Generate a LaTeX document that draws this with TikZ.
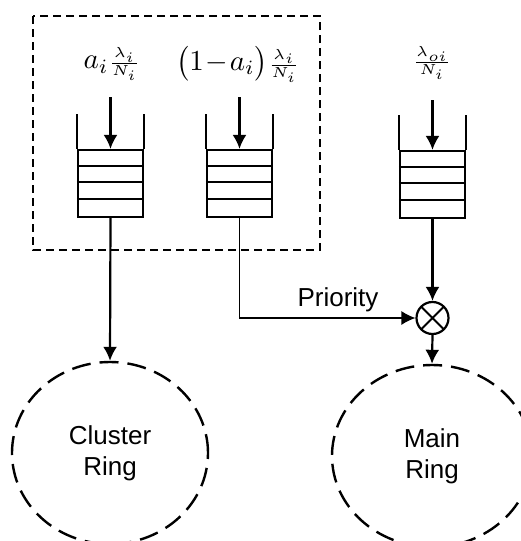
\documentclass[tikz,border=0pt]{standalone}
\usepackage{amsmath}
\usepackage{graphicx}
\usepackage{fontspec}
\setmainfont{Liberation Sans}
\usetikzlibrary{arrows.meta, positioning, calc, shapes.geometric}

\begin{document}
\begin{tikzpicture}[
    x=1pt, y=-1pt,
    queue/.style={rectangle, draw, line width=2.2pt, minimum width=65pt, minimum height=67pt, inner sep=0pt},
    ring/.style={ellipse, draw, dashed, dash pattern=on 19pt off 9pt, line width=2.4pt, minimum width=196pt, minimum height=182pt, align=center, font=\fontsize{26}{31}\selectfont},
    mux/.style={circle, draw, line width=2.2pt, minimum size=32pt, inner sep=0pt,
        path picture={\draw[line width=1.8pt] (path picture bounding box.north west) -- (path picture bounding box.south east)
            (path picture bounding box.north east) -- (path picture bounding box.south west);}},
    rate/.style={inner sep=0pt},
    arrow/.style={-{Latex[length=14pt,width=14pt]}, line width=2.2pt},
    tarrow/.style={-{Latex[length=14pt,width=14pt]}, line width=1.3pt}
]
    \useasboundingbox (0,0) rectangle (521,541);

    % Group box
    \draw[dashed, dash pattern=on 8pt off 5pt, line width=2.5pt] (33,16) rectangle (320,250);

    % Queues
    \node[queue] (q1) at (110.5,183.5) {};
    \node[queue] (q2) at (239.5,183.5) {};
    \node[queue] (q3) at (432.5,184.5) {};
    \foreach \q in {q1,q2,q3} {
        \draw[line width=2.2pt] (\q.north west) -- +(0,-35);
        \draw[line width=2.2pt] (\q.north east) -- +(0,-35);
        \foreach \dy in {17,33,50}
            \draw[line width=2.2pt] ($(\q.north west)+(0,\dy)$) -- ($(\q.north east)+(0,\dy)$);
    }

    % Arrival rates
    \node[rate] (lab1) at (112,64) {\scalebox{2.9}{$a_i{\scriptstyle\frac{\lambda_i}{N_i}}$}};
    \node[rate] (lab2) at (238,64) {\scalebox{2.9}{$\bigl(1\!-\!a_i\bigr){\scriptstyle\frac{\lambda_i}{N_i}}$}};
    \node[rate] (lab3) at (432,63) {\scalebox{2.9}{${\scriptstyle\frac{\lambda_{oi}}{N_i}}$}};
    \coordinate (in1) at (110.5,97);
    \coordinate (in2) at (239.5,97);
    \coordinate (in3) at (432.5,100);
    \draw[arrow] (in1) -- (q1.north);
    \draw[arrow] (in2) -- (q2.north);
    \draw[arrow] (in3) -- (q3.north);

    % Rings
    \node[ring] (cluster) at (110,453) {Cluster\\Ring};
    \node[ring, minimum width=200pt] (main) at (432,456) {Main\\Ring};

    % Multiplexer
    \node[mux] (mx) at (432.5,318) {};

    % Flows
    \draw[arrow] (q1.south) -- (cluster.north);
    \draw[tarrow] (q2.south) |- (mx.west) node[pos=0.78, above=2pt, font=\fontsize{26}{31}\selectfont] (prio) {Priority};
    \draw[arrow] (q3.south) -- (mx.north);
    \draw[arrow] (mx.south) -- (main.north);
\end{tikzpicture}
\end{document}
